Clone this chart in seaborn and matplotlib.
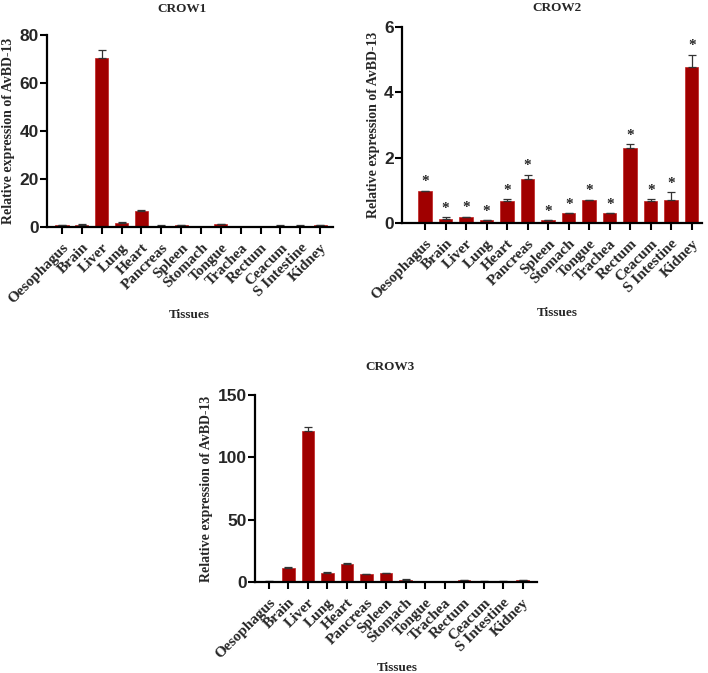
import numpy as np
import seaborn as sns
import matplotlib.pyplot as plt

tissues = ['Oesophagus', 'Brain', 'Liver', 'Lung', 'Heart', 'Pancreas', 'Spleen',
           'Stomach', 'Tongue', 'Trachea', 'Rectum', 'Ceacum', 'S Intestine', 'Kidney']

crow1 = [0.8, 1.0, 70.3, 1.8, 6.5, 0.55, 0.7, 0.05, 1.1, 0.15, 0.05, 0.6, 0.6, 0.75]
crow1_err = [0.1, 0.15, 3.7, 0.35, 0.5, 0.1, 0.1, 0.02, 0.15, 0.05, 0.02, 0.1, 0.1, 0.15]

crow2 = [0.99, 0.11, 0.2, 0.09, 0.66, 1.36, 0.09, 0.3, 0.7, 0.3, 2.3, 0.66, 0.72, 4.78]
crow2_err = [0.0, 0.07, 0.0, 0.0, 0.07, 0.12, 0.0, 0.0, 0.02, 0.0, 0.12, 0.07, 0.23, 0.38]

crow3 = [0.5, 11.2, 120.8, 7.5, 14.2, 6.2, 7.0, 2.0, 0.1, 0.1, 1.5, 0.5, 0.8, 1.5]
crow3_err = [0.2, 0.8, 3.2, 0.5, 1.1, 0.5, 0.5, 0.4, 0.05, 0.05, 0.2, 0.1, 0.2, 0.2]

bar_color = '#a00000'
serif = 'Liberation Serif'
sans = 'Liberation Sans'

sns.set_style('ticks')
plt.rcParams['font.family'] = [serif, 'DejaVu Serif']

fig = plt.figure(figsize=(7.08, 6.73), dpi=100)

panels = [
    # rect, values, errors, yticks, xlim, title, title pos, xlabel pos, stars
    ([0.0665, 0.6627, 0.404, 0.285], crow1, crow1_err, [0, 20, 40, 60, 80],
     (-0.75, 13.65), 'CROW1', (0.257, 0.987), (0.268, 0.532), False),
    ([0.568, 0.6686, 0.4235, 0.291], crow2, crow2_err, [0, 2, 4, 6],
     (-1.12, 13.5), 'CROW2', (0.787, 0.988), (0.787, 0.535), True),
    ([0.360, 0.1352, 0.3985, 0.278], crow3, crow3_err, [0, 50, 100, 150],
     (-0.72, 13.74), 'CROW3', (0.551, 0.455), (0.561, 0.007), False),
]

for rect, vals, errs, yt, xl, title, tpos, lpos, stars in panels:
    ax = fig.add_axes(rect)
    sns.barplot(x=tissues, y=vals, color=bar_color, saturation=1, width=0.66, ax=ax,
                edgecolor='#c02020', linewidth=0.5)
    pos = np.arange(len(tissues))
    ax.errorbar(pos, vals, yerr=[np.zeros(len(vals)), errs], fmt='none',
                ecolor='#333333', elinewidth=0.9, capsize=3.2, capthick=0.9)
    if stars:
        for p, v, e in zip(pos, vals, errs):
            ax.text(p, v + e + yt[-1] * 0.012, '*', ha='center', va='bottom',
                    fontsize=11, fontweight='bold', family=serif)
    ax.set_ylim(0, yt[-1])
    ax.set_xlim(*xl)
    ax.set_yticks(yt)
    ax.set_yticklabels([str(t) for t in yt], fontsize=12.5, fontweight='bold', family=sans)
    ax.set_xticks(pos)
    ax.set_xticklabels(tissues, rotation=45, ha='right', rotation_mode='anchor',
                       fontsize=11, fontweight='bold', family=serif)
    ax.tick_params(axis='both', direction='out', length=5, width=1.5, color='black')
    ax.tick_params(axis='y', pad=1)
    ax.tick_params(axis='x', pad=5)
    for s in ['left', 'bottom']:
        ax.spines[s].set_linewidth(1.6)
        ax.spines[s].set_color('black')
    sns.despine(ax=ax)
    ax.set_ylabel('Relative expression of AvBD-13', fontsize=10, fontweight='bold',
                  family=serif, labelpad=3)
    ax.set_xlabel('')
    fig.text(tpos[0], tpos[1], title, ha='center', va='center', fontsize=9.5,
             fontweight='bold', family=serif)
    fig.text(lpos[0], lpos[1], 'Tissues', ha='center', va='center', fontsize=9.5,
             fontweight='bold', family=serif)

fig.savefig('out.png', dpi=100)
